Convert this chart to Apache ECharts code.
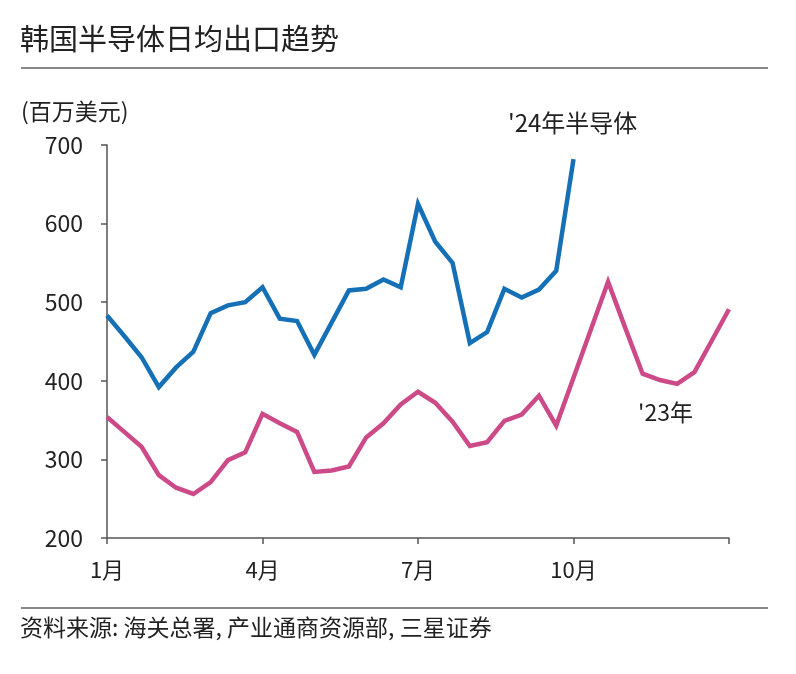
<!DOCTYPE html>
<html>
<head>
<meta charset="utf-8">
<script src="https://cdn.jsdelivr.net/npm/echarts@6/dist/echarts.min.js"></script>
<style>
html,body{margin:0;padding:0;background:#fff;}
#chart{width:796px;height:674px;}
</style>
</head>
<body>
<div id="chart"></div>
<script>
// 37 ten-day periods (上/中/下旬) across the year; ticks every 9 periods
var categories = [];
var monthLabels = ['1月','4月','7月','10月',''];
for (var i = 0; i <= 36; i++) {
  categories.push(i % 9 === 0 ? monthLabels[i / 9] : ('p' + i));
}
var series24 = [483, 457, 430, 392, 417, 437, 486, 496, 500, 519, 479, 476, 433, 474, 515, 517, 529, 519, 625, 577, 550, 448, 462, 517, 506, 516, 540, 682];
var series23 = [354, 335, 316, 280, 264, 256, 271, 299, 309, 358, 346, 335, 284, 286, 291, 328, 346, 370, 386, 372, 348, 317, 322, 349, 357, 381, 343, 404, 465, 526, 467, 409, 401, 396, 411, 451, 491];
var yTicks = [200, 300, 400, 500, 600, 700];

var FONT = "'Noto Sans CJK SC', 'Noto Sans', sans-serif";
var chart = echarts.init(document.getElementById('chart'), null, {renderer: 'canvas'});
var option = {
  backgroundColor: '#ffffff',
  animation: false,
  textStyle: {fontFamily: FONT},
  grid: {left: 107, right: 67, top: 145, bottom: 136, containLabel: false},
  xAxis: {
    type: 'category',
    data: categories,
    boundaryGap: false,
    axisLine: {show: true, lineStyle: {color: '#555', width: 1.5}},
    axisTick: {show: true, length: 6, lineStyle: {color: '#555', width: 1.5},
      interval: function (idx) { return idx % 9 === 0; }},
    axisLabel: {
      interval: function (idx) { return idx % 9 === 0; },
      formatter: function (v) { return v.charAt(0) === 'p' ? '' : v; },
      color: '#222', fontSize: 22, margin: 21, fontFamily: FONT
    },
    splitLine: {show: false}
  },
  yAxis: {
    type: 'value',
    min: yTicks[0],
    max: yTicks[yTicks.length - 1],
    interval: 100,
    axisLine: {show: true, lineStyle: {color: '#555', width: 1.5}},
    axisTick: {show: true, length: 6, lineStyle: {color: '#555', width: 1.5}},
    axisLabel: {color: '#222', fontSize: 23, margin: 24, fontFamily: FONT},
    splitLine: {show: false}
  },
  series: [
    {
      name: "'24年半导体",
      type: 'line',
      data: series24,
      showSymbol: false,
      symbol: 'none',
      lineStyle: {color: '#1570b6', width: 4.5, join: 'miter'},
      z: 3
    },
    {
      name: "'23年",
      type: 'line',
      data: series23,
      showSymbol: false,
      symbol: 'none',
      lineStyle: {color: '#cc4a87', width: 4.5, join: 'miter'},
      z: 2
    }
  ],
  graphic: [
    {type: 'text', left: 20, top: 24, style: {text: '韩国半导体日均出口趋势', fontSize: 29, fill: '#222', fontFamily: FONT}},
    {type: 'line', shape: {x1: 21, y1: 68, x2: 768, y2: 68}, style: {stroke: '#888', lineWidth: 2}},
    {type: 'text', left: 21, top: 100, style: {text: '(百万美元)', fontSize: 23, fill: '#222', fontFamily: FONT}},
    {type: 'text', left: 508, top: 111, style: {text: "'24年半导体", fontSize: 24, fill: '#222', fontFamily: FONT}},
    {type: 'text', left: 638, top: 401, style: {text: "'23年", fontSize: 23, fill: '#222', fontFamily: FONT}},
    {type: 'line', shape: {x1: 21, y1: 608, x2: 768, y2: 608}, style: {stroke: '#888', lineWidth: 2}},
    {type: 'text', left: 20, top: 616, style: {text: '资料来源: 海关总署, 产业通商资源部, 三星证券', fontSize: 23, fill: '#222', fontFamily: FONT}}
  ]
};
chart.setOption(option);
</script>
</body>
</html>
